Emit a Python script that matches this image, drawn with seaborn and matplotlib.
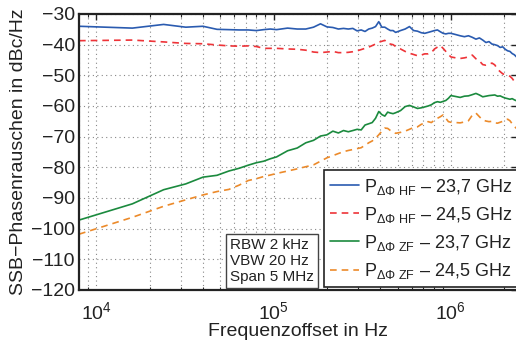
import numpy as np
import pandas as pd
import matplotlib
matplotlib.use("Agg")
import matplotlib.pyplot as plt
import seaborn as sns
from matplotlib.ticker import FixedLocator, FixedFormatter, LogLocator, NullFormatter

# ---- data ----
freq_khz = [8, 16, 24, 32, 40, 48, 56, 64, 72, 80, 88, 96, 104, 120, 136, 152, 168, 184, 200,
            216, 232, 248, 264, 280, 296, 312, 328, 344, 360, 376, 392, 408, 424, 440, 456, 472,
            488, 520, 552, 584, 616, 648, 680, 712, 744, 776, 808, 840, 872, 904, 936, 968, 1000,
            1064, 1128, 1192, 1256, 1320, 1384, 1448, 1512, 1576, 1640, 1704, 1768, 1832, 1896,
            1960, 2024, 2088, 2152, 2216, 2280, 2344]

hf_237 = [-34.0, -34.6, -33.4, -34.3, -34.0, -35.0, -35.1, -35.2, -35.2, -35.4, -35.1, -34.9,
          -35.1, -34.6, -34.9, -34.9, -34.3, -33.2, -34.2, -34.4, -34.9, -34.7, -34.9, -34.7,
          -35.5, -35.2, -35.7, -34.9, -34.6, -34.1, -32.5, -34.3, -34.3, -34.9, -35.4, -35.4,
          -36.0, -35.4, -34.9, -34.1, -35.4, -35.6, -36.1, -36.3, -36.0, -35.7, -35.4, -35.2,
          -35.8, -36.3, -36.5, -36.3, -36.3, -36.7, -37.1, -37.4, -37.1, -37.6, -38.2, -37.8,
          -38.5, -39.3, -39.0, -39.8, -40.0, -40.3, -40.9, -40.7, -41.5, -42.0, -42.2, -42.9,
          -43.3, -44.0]

hf_245 = [-38.7, -38.5, -39.1, -39.6, -39.7, -40.1, -40.4, -40.5, -40.4, -40.6, -41.2, -41.2,
          -41.2, -41.4, -41.5, -41.8, -42.4, -42.6, -42.4, -42.2, -42.6, -42.6, -42.5, -42.3,
          -42.0, -41.6, -41.2, -40.8, -40.3, -39.8, -39.2, -38.9, -38.6, -39.6, -39.8, -40.0,
          -40.6, -41.4, -42.2, -42.8, -43.2, -43.6, -43.4, -43.0, -43.0, -42.6, -41.4, -40.8,
          -40.3, -41.2, -42.2, -43.2, -44.0, -44.3, -44.5, -44.3, -44.0, -43.4, -44.6, -45.3,
          -46.5, -46.7, -46.4, -46.0, -46.6, -48.0, -48.8, -49.5, -49.8, -50.0, -50.3, -51.0,
          -52.0, -53.0]

zf_237 = [-97.2, -91.9, -87.3, -85.4, -83.2, -82.6, -81.2, -80.3, -79.3, -78.5, -78.0, -77.2,
          -76.6, -74.6, -73.7, -72.0, -71.2, -69.8, -69.4, -68.2, -68.8, -68.0, -68.4, -68.0,
          -67.6, -67.8, -66.2, -65.8, -65.4, -64.0, -61.8, -62.8, -63.3, -62.0, -62.3, -62.5,
          -62.2, -61.5, -60.2, -59.8, -60.3, -60.8, -60.6, -60.3, -60.0, -59.6, -58.9, -58.6,
          -58.8, -58.5, -58.2, -57.5, -56.6, -56.9, -57.2, -56.8, -56.7, -56.3, -55.9, -56.4,
          -57.0, -56.8, -56.6, -56.5, -56.4, -56.8, -56.7, -57.1, -57.4, -57.6, -57.8, -57.6,
          -58.0, -58.3]

zf_245 = [-101.8, -96.3, -92.7, -90.6, -89.0, -87.9, -87.2, -85.8, -84.3, -83.7, -83.0, -82.5,
          -82.0, -81.2, -80.5, -79.8, -79.2, -78.0, -76.9, -76.2, -75.5, -74.9, -74.5, -74.2,
          -73.9, -73.6, -72.8, -72.0, -71.4, -70.5, -69.4, -68.2, -67.2, -67.3, -68.0, -68.6,
          -68.9, -68.6, -68.2, -67.6, -67.0, -66.8, -66.0, -65.5, -65.1, -65.4, -64.6, -64.0,
          -63.5, -62.9, -64.0, -65.1, -65.3, -65.4, -65.5, -65.2, -64.8, -63.0, -62.3, -63.5,
          -64.6, -64.9, -65.1, -65.0, -65.5, -65.6, -65.3, -65.0, -64.6, -64.3, -64.8, -65.8,
          -66.7, -67.3]

labels = [r"$\mathregular{P_{\Delta\Phi\ HF}}$ – 23,7 GHz",
          r"$\mathregular{P_{\Delta\Phi\ HF}}$ – 24,5 GHz",
          r"$\mathregular{P_{\Delta\Phi\ ZF}}$ – 23,7 GHz",
          r"$\mathregular{P_{\Delta\Phi\ ZF}}$ – 24,5 GHz"]
colors = ["#2a5bb0", "#ee3338", "#1b8a3e", "#ec8a2a"]
styles = ["-", (0, (4, 3)), "-", (0, (4, 3))]

y_ticks = [-120, -110, -100, -90, -80, -70, -60, -50, -40, -30]
x_ticks = [1e4, 1e5, 1e6]
x_tick_labels = [r"$\mathregular{10^{4}}$", r"$\mathregular{10^{5}}$", r"$\mathregular{10^{6}}$"]
info_text = "RBW 2 kHz\nVBW 20 Hz\nSpan 5 MHz"

# ---- style ----
sns.set_theme(style="white")
plt.rcParams["font.family"] = ["Liberation Sans", "DejaVu Sans"]
plt.rcParams["mathtext.fontset"] = "custom"
plt.rcParams["mathtext.rm"] = "Liberation Sans"
plt.rcParams["mathtext.it"] = "Liberation Sans:italic"
plt.rcParams["mathtext.bf"] = "Liberation Sans:bold"
plt.rcParams["axes.unicode_minus"] = True

fig = plt.figure(figsize=(5.16, 3.43), dpi=100)
ax = fig.add_axes([79 / 516, 1 - 290 / 343, 1 - 79 / 516 + 0.002, (290 - 14) / 343])
ax.set_xscale("log")

freq = np.array(freq_khz) * 1e3
series = [hf_237, hf_245, zf_237, zf_245]
for vals, lab, col, ls in zip(series, labels, colors, styles):
    sns.lineplot(x=freq, y=vals, ax=ax, color=col, linewidth=1.2, label=lab,
                 estimator=None, sort=False)
    ax.lines[-1].set_linestyle(ls)

ax.set_xlim(8.0e3, 2.36e6)
ax.set_ylim(-120, -30)
ax.yaxis.set_major_locator(FixedLocator(y_ticks))
ax.set_yticklabels([f"{t:d}".replace("-", "\u2212") for t in y_ticks])
ax.xaxis.set_major_locator(FixedLocator(x_ticks))
ax.xaxis.set_major_formatter(FixedFormatter(x_tick_labels))
ax.xaxis.set_minor_locator(LogLocator(base=10, subs=np.arange(2, 10)))
ax.xaxis.set_minor_formatter(NullFormatter())

ax.tick_params(axis="both", which="major", direction="in", length=4, width=1,
               top=True, right=True, labelsize=14, colors="#222222")
ax.tick_params(axis="y", which="major", pad=3)
ax.tick_params(axis="x", which="major", pad=8)
ax.tick_params(axis="x", which="minor", direction="in", length=2, width=0.8,
               top=True, bottom=True)

ax.grid(True, which="major", axis="both", linestyle=(0, (1, 3)), color="#888888", linewidth=0.8)
ax.grid(True, which="minor", axis="x", linestyle=(0, (1, 3)), color="#888888", linewidth=0.8)

for s in ax.spines.values():
    s.set_color("#222222")
    s.set_linewidth(1.6)

ax.set_xlabel("Frequenzoffset in Hz", fontsize=14, color="#222222", labelpad=0)
ax.set_ylabel("SSB\u2212Phasenrauschen in dBc/Hz", fontsize=14, color="#222222", labelpad=3)

leg = ax.legend(loc="lower right", bbox_to_anchor=(1.004, 0.01), fontsize=13,
                frameon=True, fancybox=False, edgecolor="#222222", framealpha=1,
                handlelength=1.6, handletextpad=0.25, borderpad=0.35, labelspacing=0.45,
                borderaxespad=0.0)
leg.get_frame().set_linewidth(1.2)
for t in leg.get_texts():
    t.set_color("#222222")

ax.text(0.345, 0.022, info_text, transform=ax.transAxes, fontsize=11, color="#222222",
        va="bottom", ha="left", linespacing=1.2,
        bbox=dict(boxstyle="square,pad=0.25", facecolor="white", edgecolor="#444444", linewidth=1))

fig.savefig("out.png", dpi=100)
